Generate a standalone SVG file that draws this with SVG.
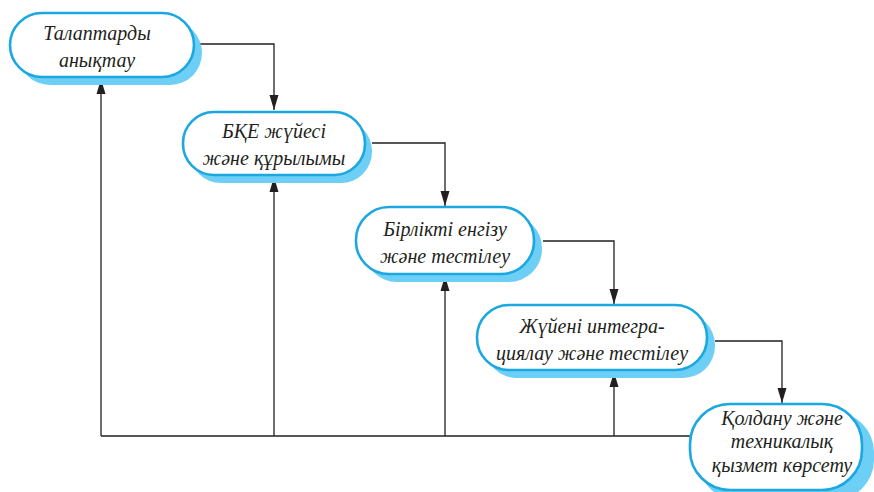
<svg xmlns="http://www.w3.org/2000/svg" width="874" height="492" viewBox="0 0 874 492">
  <style>
    .shadow { fill: #6dcff6; stroke: none; }
    .box { fill: #ffffff; stroke: #1ba8e0; stroke-width: 2.6; }
    .lbl { font-family: "Liberation Serif", "DejaVu Serif", "Noto Serif", serif; font-style: italic; font-size: 20px; fill: #231f20; text-anchor: middle; }
    .wire { fill: none; stroke: #231f20; stroke-width: 1.3; }
  </style>
  <defs>
    <marker id="arrow" viewBox="0 0 15 10" refX="15" refY="5" markerWidth="15" markerHeight="10" markerUnits="userSpaceOnUse" orient="auto">
      <path d="M0,0.5 L15,5 L0,9.5 Z" fill="#231f20"/>
    </marker>
  </defs>

  <g id="connectors">
    <!-- forward flow between stages -->
    <path class="wire" d="M200,44 H274 V110" marker-end="url(#arrow)"/>
    <path class="wire" d="M372,143 H445 V206" marker-end="url(#arrow)"/>
    <path class="wire" d="M543,241 H614 V304" marker-end="url(#arrow)"/>
    <path class="wire" d="M715,341 H782 V403" marker-end="url(#arrow)"/>
    <!-- feedback loop back to earlier stages -->
    <path class="wire" d="M692,436 H101"/>
    <path class="wire" d="M101,436 V79" marker-end="url(#arrow)"/>
    <path class="wire" d="M274,436 V177" marker-end="url(#arrow)"/>
    <path class="wire" d="M445,436 V276" marker-end="url(#arrow)"/>
    <path class="wire" d="M614,436 V372" marker-end="url(#arrow)"/>
  </g>

  <g id="node-requirements">
    <rect class="shadow" x="18" y="21" width="184" height="64" rx="32"/>
    <rect class="box" x="10" y="13" width="184" height="64" rx="32"/>
    <text class="lbl" x="97" y="40">Талаптарды</text>
    <text class="lbl" x="97" y="67">анықтау</text>
  </g>

  <g id="node-design">
    <rect class="shadow" x="190" y="120" width="182" height="63" rx="31"/>
    <rect class="box" x="183" y="112" width="182" height="63" rx="31"/>
    <text class="lbl" x="274" y="138">БҚЕ жүйесі</text>
    <text class="lbl" x="274" y="165">және құрылымы</text>
  </g>

  <g id="node-unit">
    <rect class="shadow" x="364" y="215" width="178" height="67" rx="33"/>
    <rect class="box" x="356" y="207" width="178" height="67" rx="33"/>
    <text class="lbl" x="445" y="236">Бірлікті енгізу</text>
    <text class="lbl" x="445" y="263">және тестілеу</text>
  </g>

  <g id="node-integration">
    <rect class="shadow" x="485" y="313" width="230" height="65" rx="32"/>
    <rect class="box" x="477" y="305" width="230" height="65" rx="32"/>
    <text class="lbl" x="592" y="333">Жүйені интегра-</text>
    <text class="lbl" x="592" y="360">циялау және тестілеу</text>
  </g>

  <g id="node-operation">
    <rect class="shadow" x="698" y="412" width="176" height="88" rx="40"/>
    <rect class="box" x="690" y="404" width="172" height="86" rx="40"/>
    <text class="lbl" x="782" y="425">Қолдану және</text>
    <text class="lbl" x="782" y="448">техникалық</text>
    <text class="lbl" x="782" y="472">қызмет көрсету</text>
  </g>
</svg>
